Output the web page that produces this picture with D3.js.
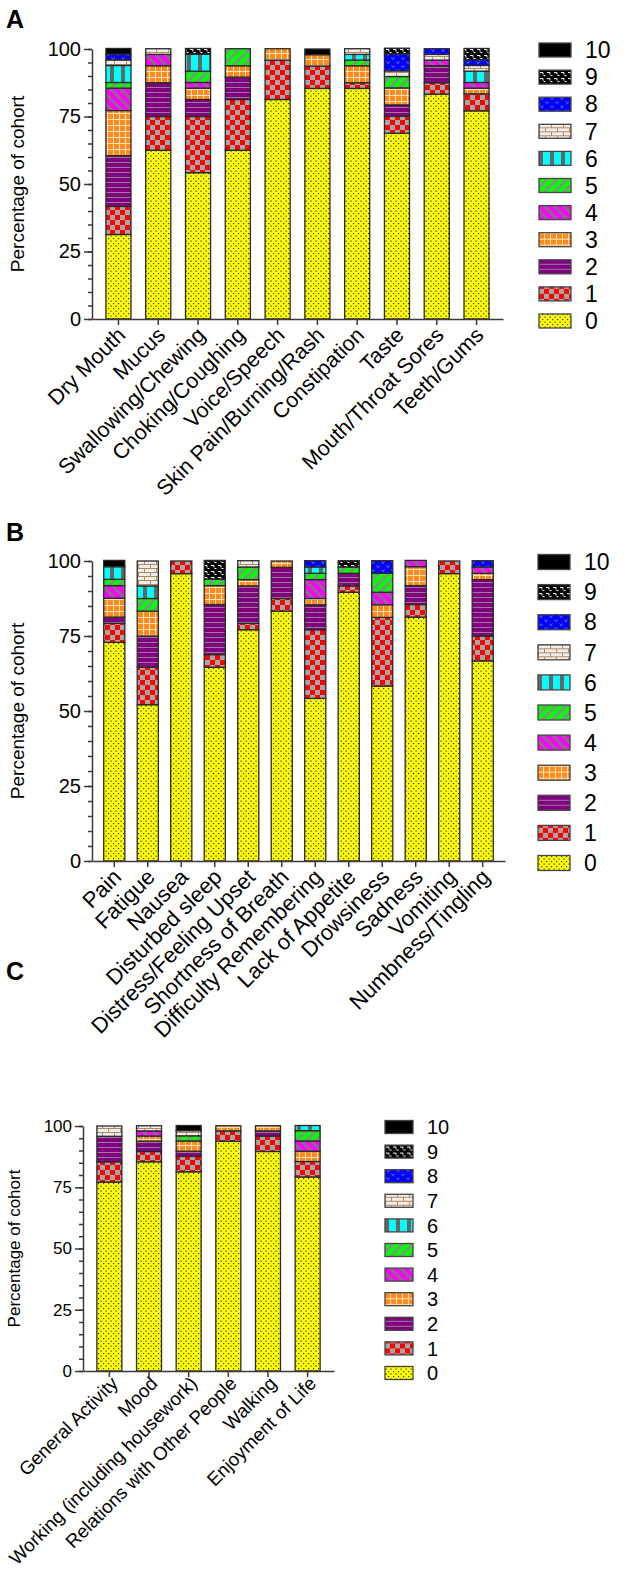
<!DOCTYPE html>
<html>
<head>
<meta charset="utf-8">
<script src="https://cdnjs.cloudflare.com/ajax/libs/d3/7.8.5/d3.min.js"></script>
<style>
body { margin: 0; background: #fff; }
svg { display: block; font-family: "Liberation Sans", Arial, sans-serif; }
</style>
</head>
<body>
<svg id="chart" width="640" height="1575"></svg>
<script>
// score levels 0..10, values are % of cohort per level
var levels = [0, 1, 2, 3, 4, 5, 6, 7, 8, 9, 10];
var majorTicks = [0, 25, 50, 75, 100];

var symptomsA = ["Dry Mouth", "Mucus", "Swallowing/Chewing", "Choking/Coughing", "Voice/Speech",
  "Skin Pain/Burning/Rash", "Constipation", "Taste", "Mouth/Throat Sores", "Teeth/Gums"];
var scoresA = [
  [31.3, 10.4, 18.8, 16.7, 8.3, 2.1, 6.3, 2.1, 2.1, 0, 2.1],
  [62.5, 12.5, 12.5, 6.3, 4.2, 0, 0, 2.1, 0, 0, 0],
  [54.2, 20.8, 6.3, 4.2, 2.1, 4.2, 6.3, 0, 0, 2.1, 0],
  [62.5, 18.8, 8.3, 4.2, 0, 6.3, 0, 0, 0, 0, 0],
  [81.3, 14.6, 0, 4.2, 0, 0, 0, 0, 0, 0, 0],
  [85.4, 8.3, 0, 4.2, 0, 0, 0, 0, 0, 0, 2.1],
  [85.4, 2.1, 0, 6.3, 0, 2.1, 2.1, 2.1, 0, 0, 0],
  [68.8, 6.3, 4.2, 6.3, 0, 4.2, 0, 2.1, 6.3, 2.1, 0],
  [83.3, 4.2, 6.3, 0, 2.1, 0, 0, 2.1, 2.1, 0, 0],
  [77.1, 6.3, 0, 2.1, 2.1, 0, 4.2, 2.1, 2.1, 4.2, 0]
];

var symptomsB = ["Pain", "Fatigue", "Nausea", "Disturbed sleep", "Distress/Feeling Upset",
  "Shortness of Breath", "Difficulty Remembering", "Lack of Appetite", "Drowsiness",
  "Sadness", "Vomiting", "Numbness/Tingling"];
var scoresB = [
  [72.9, 6.3, 2.1, 6.3, 4.2, 2.1, 4.2, 0, 0, 0, 2.1],
  [52.1, 12.5, 10.4, 8.3, 0, 4.2, 4.2, 8.3, 0, 0, 0],
  [95.8, 4.2, 0, 0, 0, 0, 0, 0, 0, 0, 0],
  [64.6, 4.2, 16.7, 6.3, 0, 2.1, 0, 0, 0, 6.3, 0],
  [77.1, 2.1, 12.5, 2.1, 0, 4.2, 0, 2.1, 0, 0, 0],
  [83.3, 4.2, 10.4, 2.1, 0, 0, 0, 0, 0, 0, 0],
  [54.2, 22.9, 8.3, 2.1, 6.3, 2.1, 2.1, 0, 2.1, 0, 0],
  [89.6, 2.1, 4.2, 0, 0, 2.1, 0, 0, 0, 2.1, 0],
  [58.3, 22.9, 0, 4.2, 4.2, 6.3, 0, 0, 4.2, 0, 0],
  [81.3, 4.2, 6.3, 6.3, 2.1, 0, 0, 0, 0, 0, 0],
  [95.8, 4.2, 0, 0, 0, 0, 0, 0, 0, 0, 0],
  [66.7, 8.3, 18.8, 2.1, 2.1, 0, 0, 0, 2.1, 0, 0]
];

var interferenceC = ["General Activity", "Mood", "Working (including housework)",
  "Relations with Other People", "Walking", "Enjoyment of Life"];
var scoresC = [
  [77.1, 8.3, 10.4, 0, 0, 0, 0, 4.2, 0, 0, 0],
  [85.4, 4.2, 4.2, 2.1, 2.1, 0, 0, 2.1, 0, 0, 0],
  [81.3, 6.3, 2.1, 4.2, 0, 2.1, 0, 2.1, 0, 0, 2.1],
  [93.8, 4.2, 0, 2.1, 0, 0, 0, 0, 0, 0, 0],
  [89.6, 6.3, 2.1, 2.1, 0, 0, 0, 0, 0, 0, 0],
  [79.2, 6.3, 0, 4.2, 4.2, 4.2, 2.1, 0, 0, 0, 0]
];

var svg = d3.select("#chart");
svg.append("rect").attr("width", 640).attr("height", 1575).attr("fill", "#fff");

/* ---------- fill patterns, one per score level ---------- */
var defs = svg.append("defs");
function pat(id, w, h, rot) {
  var p = defs.append("pattern").attr("id", id)
    .attr("patternUnits", "userSpaceOnUse")
    .attr("width", w).attr("height", h);
  if (rot) p.attr("patternTransform", "rotate(" + rot + ")");
  return p;
}
var p;
// 0 yellow with dots
p = pat("lvl0", 5, 5);
p.append("rect").attr("width", 5).attr("height", 5).attr("fill", "#ffff00");
p.append("rect").attr("x", 0.5).attr("y", 0.5).attr("width", 1.2).attr("height", 1.2).attr("fill", "#333");
p.append("rect").attr("x", 3).attr("y", 3).attr("width", 1.2).attr("height", 1.2).attr("fill", "#333");
// 1 red / grey checker
p = pat("lvl1", 10, 10);
p.append("rect").attr("width", 10).attr("height", 10).attr("fill", "#a6a6a6");
p.append("rect").attr("width", 5).attr("height", 5).attr("fill", "#ff0000");
p.append("rect").attr("x", 5).attr("y", 5).attr("width", 5).attr("height", 5).attr("fill", "#ff0000");
// 2 purple with grey lines
p = pat("lvl2", 6, 5);
p.append("rect").attr("width", 6).attr("height", 5).attr("fill", "#800080");
p.append("rect").attr("y", 2).attr("width", 6).attr("height", 1).attr("fill", "#9a7a9a");
// 3 orange grid
p = pat("lvl3", 6, 6);
p.append("rect").attr("width", 6).attr("height", 6).attr("fill", "#ff8c1a");
p.append("rect").attr("x", 5).attr("width", 1).attr("height", 6).attr("fill", "#ffe0c0");
p.append("rect").attr("y", 5).attr("width", 6).attr("height", 1).attr("fill", "#ffe0c0");
// 4 magenta, grey diagonal stripes
p = pat("lvl4", 7, 7, -45);
p.append("rect").attr("width", 7).attr("height", 7).attr("fill", "#ff00ff");
p.append("rect").attr("width", 2.5).attr("height", 7).attr("fill", "#7a7a7a");
// 5 green, grey diagonal stripes
p = pat("lvl5", 7, 7, 45);
p.append("rect").attr("width", 7).attr("height", 7).attr("fill", "#00ff00");
p.append("rect").attr("width", 2.5).attr("height", 7).attr("fill", "#8a8a8a");
// 6 cyan, grey vertical bars
p = pat("lvl6", 11, 6);
p.append("rect").attr("width", 11).attr("height", 6).attr("fill", "#00ffff");
p.append("rect").attr("width", 4).attr("height", 6).attr("fill", "#666");
// 7 brick
p = pat("lvl7", 12, 8);
p.append("rect").attr("width", 12).attr("height", 8).attr("fill", "#eeeeee");
p.append("path").attr("d", "M0,0.5H12M0,4.5H12M0.5,0V4.5M6.5,4.5V8")
  .attr("stroke", "#b9875c").attr("stroke-width", 1).attr("fill", "none");
// 8 blue with small v marks
p = pat("lvl8", 10, 8);
p.append("rect").attr("width", 10).attr("height", 8).attr("fill", "#0000ff");
p.append("path").attr("d", "M1.5,1.5L3,3.5L4.5,1.5M6.5,5.5L8,7.5L9.5,5.5")
  .attr("stroke", "#9a9ac8").attr("stroke-width", 0.8).attr("fill", "none");
// 9 black with white dashes
p = pat("lvl9", 7, 6);
p.append("rect").attr("width", 7).attr("height", 6).attr("fill", "#000");
p.append("path").attr("d", "M1,1.5H4V3.5M4.5,4.5H6.5")
  .attr("stroke", "#fff").attr("stroke-width", 1).attr("fill", "none");
// 10 solid black
p = pat("lvl10", 4, 4);
p.append("rect").attr("width", 4).attr("height", 4).attr("fill", "#000");

/* ---------- one stacked panel ---------- */
function drawPanel(cfg, cats, rows) {
  var g = svg.append("g");
  var x = d3.scaleBand().domain(cats).range([cfg.x0, cfg.x1])
    .paddingInner(0.37).paddingOuter(0.35);
  var y = d3.scaleLinear().domain([0, 100]).range([cfg.yBot, cfg.yTop]);

  var table = rows.map(function(r, i) {
    var o = { cat: cats[i] };
    levels.forEach(function(l, j) { o[l] = r[j]; });
    return o;
  });
  var series = d3.stack().keys(levels)(table);

  var layer = g.selectAll("g.layer").data(series).enter().append("g")
    .attr("fill", function(s) { return "url(#lvl" + s.key + ")"; });
  layer.selectAll("rect")
    .data(function(s) { return s.filter(function(d) { return d[1] - d[0] > 0; }); })
    .enter().append("rect")
    .attr("x", function(d) { return x(d.data.cat); })
    .attr("width", x.bandwidth())
    .attr("y", function(d) { return y(d[1]); })
    .attr("height", function(d) { return y(d[0]) - y(d[1]); })
    .attr("stroke", "#2a2a2a").attr("stroke-width", 1.3);

  // y axis: minor + major ticks
  g.append("g").attr("transform", "translate(" + cfg.x0 + ",0)")
    .call(d3.axisLeft(y).tickValues(d3.range(0, 101, 5)).tickSize(4).tickSizeOuter(0).tickFormat(""))
    .call(function(a) { a.select(".domain").remove(); });
  var ya = g.append("g").attr("transform", "translate(" + cfg.x0 + ",0)")
    .call(d3.axisLeft(y).tickValues(majorTicks).tickSize(8).tickSizeOuter(0).tickPadding(3));
  ya.selectAll("text").attr("font-size", cfg.tick).attr("fill", "#000").attr("font-family", null);

  // x axis
  var xa = g.append("g").attr("transform", "translate(0," + cfg.yBot + ")")
    .call(d3.axisBottom(x).tickSize(6).tickSizeOuter(0));
  xa.selectAll("text")
    .attr("font-size", cfg.xlab).attr("fill", "#000").attr("font-family", null)
    .attr("text-anchor", "end").attr("y", 0).attr("dy", "0.35em")
    .attr("transform", "translate(" + cfg.xdx + "," + cfg.xoff + ") rotate(-45)");

  svg.selectAll(".domain, .tick line").attr("stroke", "#3a3a3a").attr("stroke-width", 1.5);

  // y title
  g.append("text")
    .attr("transform", "translate(" + cfg.titleX + "," + ((cfg.yTop + cfg.yBot) / 2) + ") rotate(-90)")
    .attr("text-anchor", "middle").attr("font-size", cfg.title)
    .text("Percentage of cohort");

  // panel letter
  g.append("text").attr("x", 6).attr("y", cfg.letterY)
    .attr("font-size", 25).attr("font-weight", "bold").text(cfg.letter);

  // legend
  var ly = d3.scalePoint().domain(levels.slice().reverse()).range([cfg.yTop + 1, cfg.yBot + 2]);
  var leg = g.selectAll("g.leg").data(levels).enter().append("g")
    .attr("transform", function(l) { return "translate(" + cfg.legX + "," + ly(l) + ")"; });
  leg.append("rect")
    .attr("y", -cfg.swH / 2).attr("width", cfg.swW).attr("height", cfg.swH)
    .attr("fill", function(l) { return "url(#lvl" + l + ")"; })
    .attr("stroke", "#444").attr("stroke-width", 1.3);
  leg.append("text")
    .attr("x", cfg.swW + 14).attr("dy", "0.36em")
    .attr("font-size", cfg.legend).text(function(l) { return l; });
}

drawPanel({ letter: "A", letterY: 28, x0: 92, x1: 503, yTop: 49, yBot: 319,
  tick: 20, xlab: 21.5, xdx: 3, xoff: 12, title: 19, titleX: 24, legend: 23,
  legX: 539, swW: 32, swH: 14 }, symptomsA, scoresA);

drawPanel({ letter: "B", letterY: 541, x0: 92, x1: 505, yTop: 561, yBot: 861,
  tick: 20, xlab: 22, xdx: 3, xoff: 12, title: 19, titleX: 24, legend: 23,
  legX: 538, swW: 32, swH: 15 }, symptomsB, scoresB);

drawPanel({ letter: "C", letterY: 980, x0: 83, x1: 334, yTop: 1126, yBot: 1371,
  tick: 17, xlab: 18.8, xdx: 5, xoff: 9, title: 17, titleX: 20, legend: 20,
  legX: 385, swW: 28, swH: 13 }, interferenceC, scoresC);
</script>
</body>
</html>
